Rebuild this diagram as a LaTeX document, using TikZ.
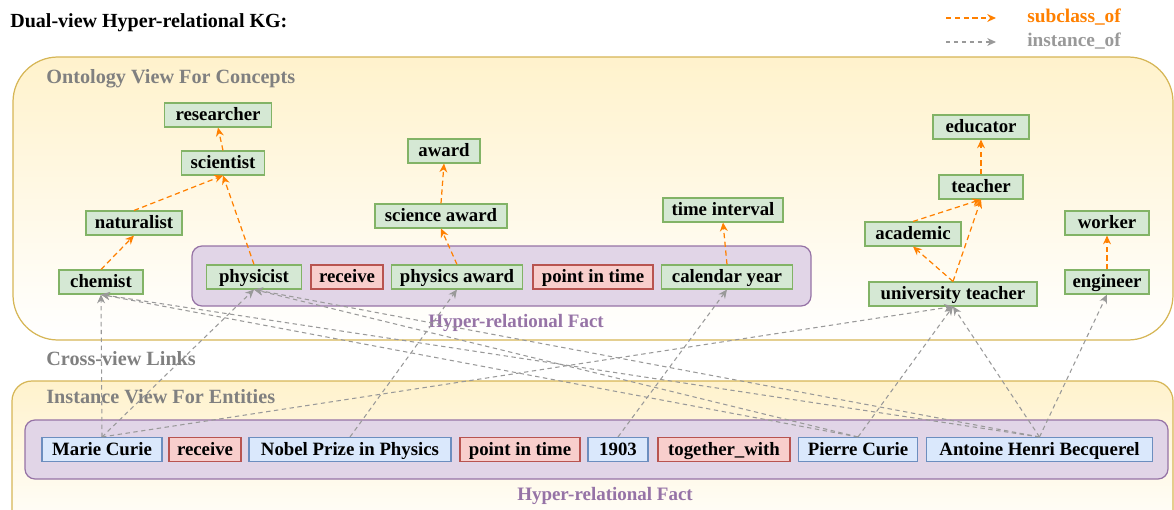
\documentclass[tikz,border=0pt]{standalone}
\usepackage{fontspec}
\setmainfont{Liberation Serif}
\usetikzlibrary{arrows.meta}
\definecolor{conceptfill}{HTML}{D5E8D4}
\definecolor{conceptline}{HTML}{82B366}
\definecolor{relfill}{HTML}{F8CECC}
\definecolor{relline}{HTML}{B85450}
\definecolor{entfill}{HTML}{DAE8FC}
\definecolor{entline}{HTML}{6C8EBF}
\definecolor{factfill}{HTML}{E1D5E7}
\definecolor{factline}{HTML}{9673A6}
\definecolor{panelfill}{HTML}{FFF2CC}
\definecolor{panelline}{HTML}{D6B656}
\definecolor{suborange}{HTML}{FF8000}
\definecolor{instgray}{HTML}{999999}
\definecolor{titlegray}{HTML}{808080}
\tikzset{
  kgbox/.style = {draw, line width=0.6pt, inner sep=0pt, minimum height=24*0.02cm,
    text height=7.4pt, text depth=0.8pt, font=\fontsize{10.7}{12}\selectfont\bfseries},
  concept/.style = {kgbox, fill=conceptfill, draw=conceptline},
  relation/.style = {kgbox, fill=relfill, draw=relline},
  entity/.style = {kgbox, fill=entfill, draw=entline},
  bw/.style = {minimum width=#1*0.02cm},
  panel/.style = {draw=panelline, line width=0.7pt, top color=panelfill, bottom color=white},
  factbox/.style = {draw=factline, fill=factfill, line width=0.7pt, rounded corners=0.2cm},
  viewtitle/.style = {anchor=west, inner sep=0pt, text=titlegray,
    font=\fontsize{11.5}{13}\selectfont\bfseries},
  factlabel/.style = {inner sep=0pt, text=factline, font=\fontsize{10.8}{13}\selectfont\bfseries},
  subclass/.style = {draw=suborange, line width=0.7pt, dash pattern=on 3pt off 2pt,
    -{Stealth[length=5pt,width=4.5pt]}},
  instance/.style = {draw=instgray, line width=0.6pt, dash pattern=on 2.5pt off 2pt,
    -{Stealth[length=5pt,width=4.5pt]}}
}

\begin{document}
\begin{tikzpicture}[x=0.02cm,y=-0.02cm]
  \path[use as bounding box, clip] (0,0) rectangle (1174,510);
  \path[panel, rounded corners=0.9cm] (13,57) rectangle (1173,340);
  \path[panel, rounded corners=0.4cm] (12,381) rectangle (1173,540);
  \path[factbox] (192,246) rectangle (811,306);
  \path[factbox] (25,420) rectangle (1168,479);

  \node (head) at (10,23) [anchor=west, inner sep=0pt, font=\fontsize{11.4}{13}\selectfont\bfseries] {Dual-view Hyper-relational KG:};
  \node (onto) at (46,79) [viewtitle] {Ontology View For Concepts};
  \node (cross) at (46,359) [viewtitle] {Cross-view Links};
  \node (inst) at (46,397) [viewtitle] {Instance View For Entities};
  \node (ofact) at (516,323) [factlabel] {Hyper-relational Fact};
  \node (ifact) at (605,496) [factlabel] {Hyper-relational Fact};

  \coordinate (sub0) at (946,18);
  \coordinate (sub1) at (996,18);
  \coordinate (ins0) at (946,42);
  \coordinate (ins1) at (996,42);
  \draw[subclass] (sub0) -- (sub1);
  \draw[instance] (ins0) -- (ins1);
  \node (subtxt) at (1027,17) [anchor=west, inner sep=0pt, text=suborange, font=\fontsize{11}{13}\selectfont\bfseries] {subclass\_of};
  \node (instxt) at (1027,41) [anchor=west, inner sep=0pt, text=instgray, font=\fontsize{11}{13}\selectfont\bfseries] {instance\_of};

  \node (res)  at (218,115) [concept, bw=107] {researcher};
  \node (sci)  at (223,163) [concept, bw=83]  {scientist};
  \node (nat)  at (134,223) [concept, bw=96]  {naturalist};
  \node (chem) at (101,282) [concept, bw=84]  {chemist};
  \node (phys) at (254,277) [concept, bw=95]  {physicist};
  \node (orec) at (347,277) [relation, bw=72] {receive};
  \node (pa)   at (457,277) [concept, bw=131] {physics award};
  \node (opit) at (593,277) [relation, bw=120] {point in time};
  \node (cy)   at (727,277) [concept, bw=131] {calendar year};
  \node (aw)   at (444,151) [concept, bw=72]  {award};
  \node (sa)   at (441,216) [concept, bw=132] {science award};
  \node (ti)   at (723,210) [concept, bw=120] {time interval};
  \node (edu)  at (981,127) [concept, bw=96]  {educator};
  \node (tea)  at (981,187) [concept, bw=84]  {teacher};
  \node (aca)  at (913,234) [concept, bw=96]  {academic};
  \node (ut)   at (953,294) [concept, bw=168] {university teacher};
  \node (wor)  at (1107,223) [concept, bw=84] {worker};
  \node (eng)  at (1107,282) [concept, bw=84] {engineer};

  \node (mc)    at (102,449.5)  [entity, bw=120]   {Marie Curie};
  \node (irec)  at (205,449.5)  [relation, bw=72]  {receive};
  \node (nobel) at (350,449.5)  [entity, bw=202]   {Nobel Prize in Physics};
  \node (ipit)  at (520,449.5)  [relation, bw=120] {point in time};
  \node (yr)    at (618,449.5)  [entity, bw=60]    {1903};
  \node (tw)    at (724,449.5)  [relation, bw=132] {together\_with};
  \node (pc)    at (858,449.5)  [entity, bw=119]   {Pierre Curie};
  \node (ahb)   at (1039.5,449.5) [entity, bw=226] {Antoine Henri Becquerel};

  \foreach \s/\t in {chem/nat, nat/sci, phys/sci, sci/res, pa/sa, sa/aw, cy/ti,
                     ut/aca, ut/tea, aca/tea, tea/edu, eng/wor}
    \draw[subclass] (\s.north) -- (\t.south);
  \foreach \s/\t in {mc/chem, mc/phys, mc/ut, pc/chem, pc/phys, pc/ut,
                     ahb/chem, ahb/phys, ahb/ut, ahb/eng, nobel/pa, yr/cy}
    \draw[instance] (\s.north) -- (\t.south);
\end{tikzpicture}
\end{document}
